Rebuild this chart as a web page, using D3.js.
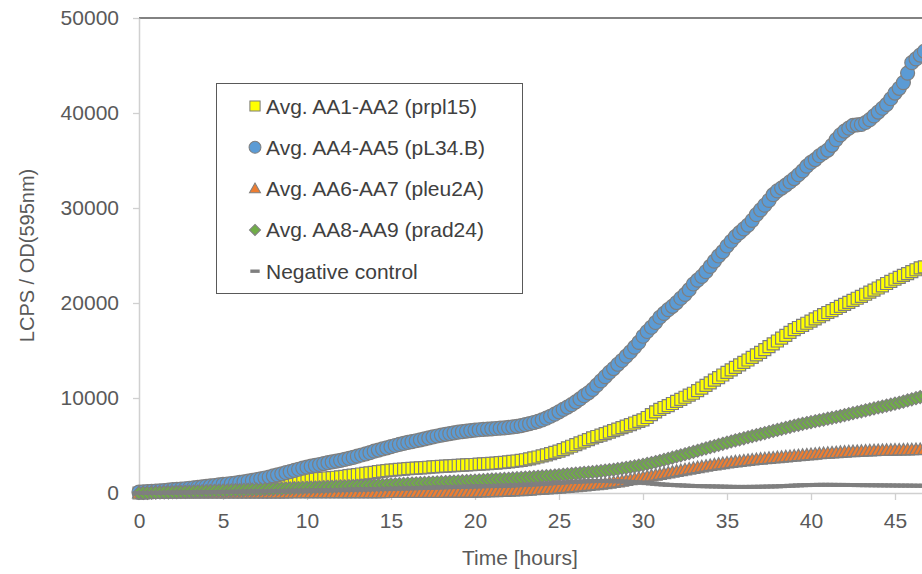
<!DOCTYPE html>
<html>
<head>
<meta charset="utf-8">
<script src="https://cdn.jsdelivr.net/npm/d3@7/dist/d3.min.js"></script>
<style>
  body { margin: 0; background: #fff; }
  svg { display: block; font-family: "Liberation Sans", Arial, sans-serif; }
</style>
</head>
<body>
<div id="chart"></div>
<script>
// sampling times (hours)
const TIME_H = [
  0,0.25,0.5,0.75,1,1.25,1.5,1.75,2,2.25,2.5,2.75,3,3.25,3.5,3.75,4,4.25,4.5,4.75,
  5,5.25,5.5,5.75,6,6.25,6.5,6.75,7,7.25,7.5,7.75,8,8.25,8.5,8.75,9,9.25,9.5,9.75,
  10,10.25,10.5,10.75,11,11.25,11.5,11.75,12,12.25,12.5,12.75,13,13.25,13.5,13.75,14,14.25,14.5,14.75,
  15,15.25,15.5,15.75,16,16.25,16.5,16.75,17,17.25,17.5,17.75,18,18.25,18.5,18.75,19,19.25,19.5,19.75,
  20,20.25,20.5,20.75,21,21.25,21.5,21.75,22,22.25,22.5,22.75,23,23.25,23.5,23.75,24,24.25,24.5,24.75,
  25,25.25,25.5,25.75,26,26.25,26.5,26.75,27,27.25,27.5,27.75,28,28.25,28.5,28.75,29,29.25,29.5,29.75,
  30,30.25,30.5,30.75,31,31.25,31.5,31.75,32,32.25,32.5,32.75,33,33.25,33.5,33.75,34,34.25,34.5,34.75,
  35,35.25,35.5,35.75,36,36.25,36.5,36.75,37,37.25,37.5,37.75,38,38.25,38.5,38.75,39,39.25,39.5,39.75,
  40,40.25,40.5,40.75,41,41.25,41.5,41.75,42,42.25,42.5,42.75,43,43.25,43.5,43.75,44,44.25,44.5,44.75,
  45,45.25,45.5,45.75,46,46.25,46.5,46.75
];

const AVG_AA1_AA2 = [
  0,20,40,60, 80,100,120,145, 170,195,220,245, 270,300,330,360, 390,420,450,475,
  500,530,560,590, 620,650,690,730, 770,810,860,910, 960,1010,1060,1110, 1160,1210,1260,1320,
  1380,1420,1460,1500, 1540,1580,1620,1660, 1700,1760,1820,1880, 1940,2000,2060,2120, 2180,2240,2300,2350,
  2400,2440,2480,2520, 2560,2590,2620,2650, 2680,2710,2740,2770, 2800,2830,2860,2890, 2910,2940,2960,2980,
  3000,3030,3060,3090, 3120,3150,3190,3230, 3270,3320,3370,3430, 3500,3590,3690,3790, 3900,4020,4140,4270,
  4400,4570,4750,4920, 5100,5270,5450,5620, 5800,5950,6100,6250, 6400,6560,6720,6880, 7040,7200,7370,7530,
  7700,7950,8250,8550, 8800,9000,9200,9420, 9640,9860,10080,10300, 10500,10780,11050,11330, 11600,11880,12150,12420,
  12700,12960,13220,13480, 13740,14000,14270,14540, 14800,15100,15400,15700, 16000,16300,16600,16900, 17200,17420,17650,17870,
  18100,18320,18550,18780, 19000,19200,19420,19640, 19850,20060,20280,20500, 20700,20920,21140,21360, 21580,21800,22050,22280,
  22500,22700,22900,23100, 23300,23500,23700,23800
];

const AVG_AA4_AA5 = [
  100,120,150,175, 200,230,260,300, 350,380,410,450, 500,540,590,640, 700,740,790,850,
  900,950,1000,1050, 1120,1180,1250,1320, 1400,1490,1580,1680, 1800,1900,2020,2140, 2260,2380,2500,2620,
  2720,2820,2910,3000, 3100,3190,3270,3350, 3440,3540,3640,3750, 3880,4000,4120,4250, 4400,4520,4640,4760,
  4880,5000,5120,5220, 5320,5410,5500,5600, 5700,5800,5900,6000, 6100,6180,6260,6330, 6400,6460,6520,6570,
  6620,6660,6700,6730, 6760,6790,6820,6850, 6900,6960,7020,7100, 7200,7300,7420,7550, 7700,7880,8080,8300,
  8550,8800,9050,9300, 9600,9900,10250,10550, 10900,11350,11800,12250, 12700,13100,13550,13950, 14400,14850,15350,15850,
  16500,17000,17450,17950, 18500,18900,19300,19650, 20050,20500,20900,21400, 22000,22400,22800,23300, 23850,24400,24950,25400,
  26000,26500,27000,27400, 27800,28200,28700,29300, 29800,30300,30800,31400, 31800,32100,32400,32750, 33100,33500,33900,34400,
  34800,35100,35500,35800, 36100,36600,37200,37700, 38100,38400,38700,38750, 38800,39000,39300,39700, 40100,40500,40900,41500,
  42100,42600,43200,44200, 45300,45700,46100,46500
];

const AVG_AA6_AA7 = [
  0,0,0,0, 0,0,0,0, 0,0,0,0, 0,0,5,5, 5,5,5,5,
  10,10,10,10, 10,10,15,15, 15,15,15,20, 20,20,20,20, 25,25,25,25,
  30,30,30,30, 35,35,35,35, 40,40,40,40, 45,45,45,45, 50,50,50,55,
  55,55,60,60, 60,65,65,70, 70,70,75,75, 80,80,85,85, 90,90,95,95,
  100,110,120,130, 140,150,165,180, 200,220,240,260, 280,310,340,370, 400,430,460,490,
  520,560,600,640, 680,720,760,800, 840,880,930,980, 1040,1110,1180,1250, 1320,1400,1480,1560,
  1640,1720,1800,1880, 1960,2040,2120,2200, 2280,2360,2440,2520, 2600,2680,2760,2830, 2900,2970,3040,3100,
  3160,3220,3280,3330, 3380,3430,3480,3530, 3570,3610,3650,3690, 3730,3770,3810,3850, 3890,3930,3970,4010,
  4050,4090,4130,4160, 4190,4220,4250,4280, 4310,4340,4360,4380, 4400,4420,4440,4460, 4480,4490,4500,4510,
  4520,4530,4540,4550, 4560,4570,4580,4590
];

const AVG_AA8_AA9 = [
  0,10,20,30, 40,50,60,70, 80,95,110,125, 140,155,170,185, 200,215,225,240,
  250,265,280,295, 310,325,340,355, 370,385,400,415, 430,445,460,475, 490,505,520,535,
  550,565,580,600, 620,635,650,670, 690,705,720,735, 750,765,780,800, 820,835,850,870,
  900,920,940,960, 980,1000,1020,1040, 1060,1080,1100,1120, 1140,1160,1180,1200, 1220,1240,1260,1280,
  1300,1330,1360,1390, 1420,1440,1460,1480, 1500,1530,1560,1590, 1620,1650,1680,1710, 1740,1770,1800,1840,
  1880,1920,1960,2000, 2040,2080,2120,2160, 2200,2250,2300,2350, 2400,2450,2520,2580, 2650,2720,2800,2880,
  2960,3060,3160,3260, 3370,3480,3600,3720, 3840,3960,4080,4200, 4320,4450,4580,4700, 4820,4940,5060,5180,
  5300,5420,5540,5650, 5760,5870,5980,6090, 6200,6310,6420,6530, 6640,6750,6860,6970, 7080,7180,7280,7370,
  7460,7550,7640,7730, 7820,7910,8000,8100, 8200,8300,8400,8500, 8600,8700,8800,8900, 9000,9100,9200,9300,
  9400,9500,9620,9740, 9860,9980,10100,10200
];

const NEGATIVE_CONTROL = [
  0,5,10,15, 20,25,30,35, 40,45,50,55, 60,65,70,75, 80,85,90,95,
  100,110,120,130, 140,150,160,170, 175,180,190,200, 205,210,220,225, 230,235,240,245,
  250,260,270,280, 290,300,310,320, 330,340,350,360, 370,380,390,400, 410,420,430,440,
  450,460,475,490, 500,510,520,535, 550,560,570,585, 600,610,620,635, 650,660,675,690,
  700,710,720,730, 740,750,760,770, 780,800,820,840, 860,880,900,930, 960,990,1020,1050,
  1080,1110,1140,1170, 1190,1210,1230,1240, 1250,1260,1260,1260, 1250,1240,1230,1210, 1190,1170,1140,1110,
  1080,1040,1000,960, 920,890,860,840, 820,800,780,760, 740,730,720,710, 700,690,680,670,
  660,650,640,640, 640,640,650,650, 660,670,680,690, 700,720,740,760, 780,800,820,830,
  840,850,860,860, 860,860,850,850, 850,840,840,830, 830,820,820,810, 810,800,800,790,
  790,780,780,780, 770,770,760,760
];

const SERIES_LABELS = [
  "Avg. AA1-AA2 (prpl15)",
  "Avg. AA4-AA5 (pL34.B)",
  "Avg. AA6-AA7 (pleu2A)",
  "Avg. AA8-AA9 (prad24)",
  "Negative control"
];
const X_TICKS = [0, 5, 10, 15, 20, 25, 30, 35, 40, 45];
const Y_TICKS = [0, 10000, 20000, 30000, 40000, 50000];

const SVG_WIDTH = 922;
const SVG_HEIGHT = 574;
const MARGIN = { TOP: 18, LEFT: 139 };
const PLOT_WIDTH = 840;
const PLOT_HEIGHT = 475;

const MARKER_STROKE = "#7f7f7f";
const SHAPES = {
  square: "M-6,-6h12v12h-12Z",
  circle: d3.symbol(d3.symbolCircle, Math.PI * 7 * 7)(),
  triangle: "M0,-6.5L6.5,5L-6.5,5Z",
  diamond: "M0,-6.5L6.5,0L0,6.5L-6.5,0Z",
  dash: "M-5.5,-2h11v4h-11Z"
};

const SERIES = [
  { label: SERIES_LABELS[0], values: AVG_AA1_AA2, shape: "square", fill: "#ffff00" },
  { label: SERIES_LABELS[1], values: AVG_AA4_AA5, shape: "circle", fill: "#5b9bd5" },
  { label: SERIES_LABELS[2], values: AVG_AA6_AA7, shape: "triangle", fill: "#ed7d31" },
  { label: SERIES_LABELS[3], values: AVG_AA8_AA9, shape: "diamond", fill: "#70ad47" },
  { label: SERIES_LABELS[4], values: NEGATIVE_CONTROL, shape: "dash", fill: "#7f7f7f" }
];

const SVG = d3.select("#chart").append("svg")
  .attr("width", SVG_WIDTH)
  .attr("height", SVG_HEIGHT);

const CHART = SVG.append("g")
  .attr("transform", "translate(" + MARGIN.LEFT + "," + MARGIN.TOP + ")");

const X_SCALE = d3.scaleLinear().domain([0, 50]).range([0, PLOT_WIDTH]);
const Y_SCALE = d3.scaleLinear().domain([0, 50000]).range([PLOT_HEIGHT, 0]);

// top border of plot area
CHART.append("line")
  .attr("x1", 0).attr("x2", PLOT_WIDTH)
  .attr("y1", 0).attr("y2", 0)
  .attr("stroke", "#595959")
  .attr("stroke-width", 1.3);

const Y_AXIS = d3.axisLeft(Y_SCALE)
  .tickValues(Y_TICKS)
  .tickFormat(d3.format("d"))
  .tickSizeInner(6)
  .tickSizeOuter(0)
  .tickPadding(14);

const X_AXIS = d3.axisBottom(X_SCALE)
  .tickValues(X_TICKS)
  .tickFormat(d3.format("d"))
  .tickSizeInner(7)
  .tickSizeOuter(0)
  .tickPadding(13);

const Y_G = CHART.append("g").attr("id", "y-axis").call(Y_AXIS);
const X_G = CHART.append("g").attr("id", "x-axis")
  .attr("transform", "translate(0," + PLOT_HEIGHT + ")")
  .call(X_AXIS);

[Y_G, X_G].forEach((g) => {
  g.select(".domain").attr("stroke", "#d0d0d0").attr("stroke-width", 1.5);
  g.selectAll(".tick line").attr("stroke", "#d0d0d0").attr("stroke-width", 1.3);
  g.selectAll(".tick text")
    .attr("fill", "#595959")
    .style("font-size", "21px")
    .style("font-family", '"Liberation Sans", Arial, sans-serif');
});

// series markers, first series at the bottom
SERIES.forEach((s) => {
  const pts = TIME_H.map((t, i) => ({ t: t, v: s.values[i] }));
  CHART.append("g")
    .attr("class", "series")
    .selectAll("path")
    .data(pts)
    .join("path")
    .attr("transform", (d) => "translate(" + X_SCALE(d.t) + "," + Y_SCALE(d.v) + ")")
    .attr("d", SHAPES[s.shape])
    .attr("fill", s.fill)
    .attr("stroke", s.shape === "dash" ? "none" : MARKER_STROKE)
    .attr("stroke-width", 1.2);
});

// axis titles
SVG.append("text")
  .attr("transform", "translate(27," + (MARGIN.TOP + PLOT_HEIGHT / 2) + ") rotate(-90)")
  .attr("text-anchor", "middle")
  .attr("dominant-baseline", "central")
  .attr("fill", "#595959")
  .style("font-size", "20px")
  .text("LCPS / OD(595nm)");

SVG.append("text")
  .attr("x", 520)
  .attr("y", 557)
  .attr("text-anchor", "middle")
  .attr("dominant-baseline", "central")
  .attr("fill", "#595959")
  .style("font-size", "21px")
  .text("Time [hours]");

// legend
const LEGEND = SVG.append("g").attr("id", "legend");
LEGEND.append("rect")
  .attr("x", 216.5).attr("y", 83.5)
  .attr("width", 306).attr("height", 210)
  .attr("fill", "#fff")
  .attr("stroke", "#595959")
  .attr("stroke-width", 1);

const LEGEND_ROW = LEGEND.selectAll(".legend-row")
  .data(SERIES)
  .join("g")
  .attr("class", "legend-row")
  .attr("transform", (d, i) => "translate(0," + (106 + i * 41.3) + ")");

LEGEND_ROW.append("path")
  .attr("transform", "translate(255,0) scale(0.85)")
  .attr("d", (d) => SHAPES[d.shape])
  .attr("fill", (d) => d.fill)
  .attr("stroke", (d) => (d.shape === "dash" ? "none" : MARKER_STROKE))
  .attr("stroke-width", 1.2);

LEGEND_ROW.append("text")
  .attr("x", 266)
  .attr("y", 0)
  .attr("dominant-baseline", "central")
  .attr("fill", "#404040")
  .style("font-size", "21px")
  .text((d) => d.label);
</script>
</body>
</html>
